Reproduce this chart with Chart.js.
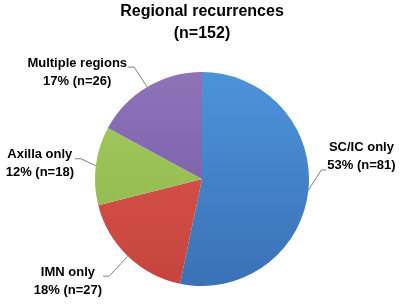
<!DOCTYPE html>
<html>
<head>
<meta charset="utf-8">
<script src="https://cdn.jsdelivr.net/npm/chart.js@4/dist/chart.umd.min.js"></script>
<style>
  html, body { margin:0; padding:0; background:#fff; }
  #wrap { width:400px; height:304px; position:relative; }
</style>
</head>
<body>
<div id="wrap"><canvas id="pieChart"></canvas></div>
<script>
/* ── data ── */
const TITLE_LINES = ['Regional recurrences', '(n=152)'];
const CATEGORIES  = ['SC/IC only', 'IMN only', 'Axilla only', 'Multiple regions'];
const COUNTS      = [81, 27, 18, 26];

/* ── style ── */
const GRAD_TOP    = ['#4d93da', '#e0584e', '#a4cc5e', '#8e73b9'];
const GRAD_BOTTOM = ['#3a71b6', '#c4453e', '#8db34b', '#7557a0'];
// label block centre, offset from the slice's outer mid point
const LABEL_OFFSET = [[53,-34], [-60,25], [-56,-2], [-70,-15]];
const LABEL_FONT = 'bold 13px "Liberation Sans", Arial, sans-serif';

const TOTAL = COUNTS.reduce((a,b)=>a+b, 0);

function sliceGradient(ctx) {
  const chart = ctx.chart, area = chart.chartArea, i = ctx.dataIndex;
  if (!area) return GRAD_TOP[i];
  const g = chart.ctx.createLinearGradient(0, area.top, 0, area.bottom);
  g.addColorStop(0, GRAD_TOP[i]);
  g.addColorStop(1, GRAD_BOTTOM[i]);
  return g;
}

const outsideLabels = {
  id: 'outsideLabels',
  afterDatasetsDraw(chart) {
    const ctx = chart.ctx;
    const meta = chart.getDatasetMeta(0);
    ctx.save();
    ctx.font = LABEL_FONT;
    ctx.fillStyle = '#000';
    ctx.textAlign = 'center';
    ctx.textBaseline = 'middle';
    ctx.strokeStyle = '#7f7f7f';
    ctx.lineWidth = 1;
    meta.data.forEach((arc, i) => {
      const p = arc.getProps(['x','y','startAngle','endAngle','outerRadius'], true);
      const mid = (p.startAngle + p.endAngle) / 2;
      const ex = p.x + p.outerRadius * Math.cos(mid);
      const ey = p.y + p.outerRadius * Math.sin(mid);
      const cx = ex + LABEL_OFFSET[i][0];
      const cy = ey + LABEL_OFFSET[i][1];
      const pct = Math.round(COUNTS[i] / TOTAL * 100);
      const lines = [CATEGORIES[i], pct + '% (n=' + COUNTS[i] + ')'];
      const w = Math.max(...lines.map(t => ctx.measureText(t).width));
      const y1 = cy - 9, y2 = cy + 9;
      ctx.fillText(lines[0], cx, y1);
      ctx.fillText(lines[1], cx, y2);

      ctx.beginPath();
      if (LABEL_OFFSET[i][0] < 0) {
        const lx = cx + w/2 + 1, ly = y1 + 4;
        ctx.moveTo(lx, ly);
        ctx.lineTo(lx + 6, ly);
      } else {
        const lx = cx - w/2 - 1, ly = y2 + 5;
        ctx.moveTo(lx, ly);
        ctx.lineTo(lx - 5, ly);
      }
      ctx.lineTo(ex, ey);
      ctx.stroke();
    });
    ctx.restore();
  }
};

new Chart(document.getElementById('pieChart'), {
  type: 'pie',
  data: {
    labels: CATEGORIES,
    datasets: [{ data: COUNTS, backgroundColor: sliceGradient, borderWidth: 0 }]
  },
  options: {
    responsive: true,
    maintainAspectRatio: false,
    animation: false,
    layout: { padding: { top: 0, left: 4, right: 0, bottom: 18 } },
    plugins: {
      legend: { display: false },
      tooltip: { enabled: false },
      title: {
        display: true,
        text: TITLE_LINES,
        color: '#000',
        font: { size: 16, weight: 'bold', family: '"Liberation Sans", Arial, sans-serif', lineHeight: 1.4 },
        padding: { top: 0, bottom: 27.2 }
      }
    }
  },
  plugins: [outsideLabels]
});
</script>
</body>
</html>
